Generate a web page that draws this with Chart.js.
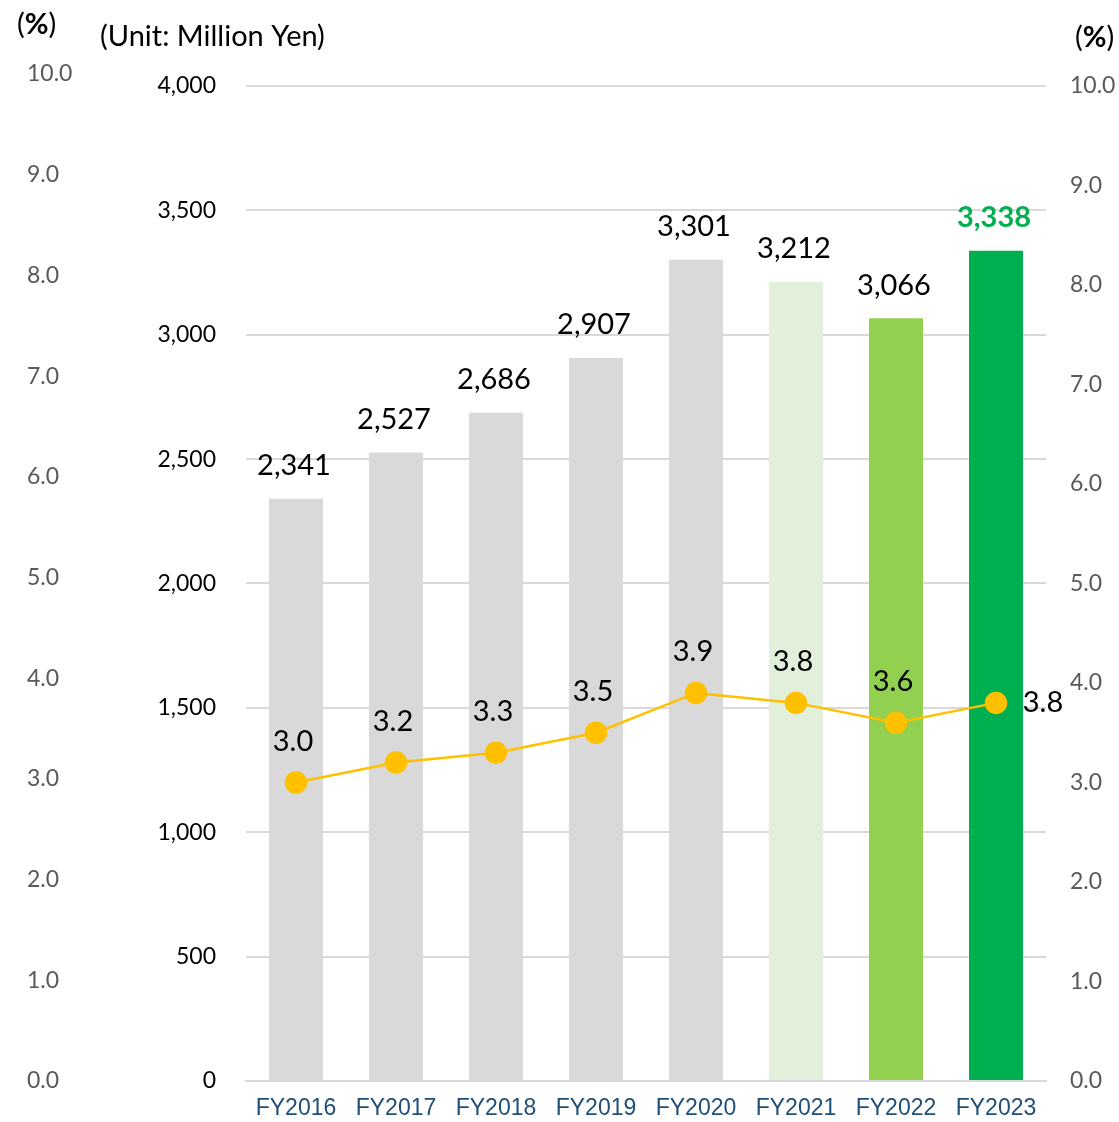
<!DOCTYPE html>
<html>
<head>
<meta charset="utf-8">
<script src="https://cdn.jsdelivr.net/npm/chart.js@4.4.1/dist/chart.umd.min.js"></script>
<style>
  html, body { margin: 0; padding: 0; background: #ffffff; }
  #wrap { width: 1119px; height: 1122px; position: relative; }
</style>
</head>
<body>
<div id="wrap"><canvas id="c" width="1119" height="1122"></canvas></div>
<script>
const categories = ['FY2016', 'FY2017', 'FY2018', 'FY2019', 'FY2020', 'FY2021', 'FY2022', 'FY2023'];
const salesValues = [2341, 2527, 2686, 2907, 3301, 3212, 3066, 3338];
const ratioValues = [3.0, 3.2, 3.3, 3.5, 3.9, 3.8, 3.6, 3.8];
const barColors = ['#d9d9d9', '#d9d9d9', '#d9d9d9', '#d9d9d9', '#d9d9d9', '#e2efda', '#92d050', '#00b050'];
const amountTicks = [0, 500, 1000, 1500, 2000, 2500, 3000, 3500, 4000];
const pctTicks = [0, 1, 2, 3, 4, 5, 6, 7, 8, 9, 10];
const unitTitle = '(Unit: Million Yen)';

const FONT = 'Lato, "Open Sans", sans-serif';
const AXIS_FONT = '"Liberation Sans", Arial, sans-serif';

const labelPlugin = {
  id: 'valueLabels',
  afterDatasetsDraw(chart) {
    const ctx = chart.ctx;
    ctx.save();
    ctx.textAlign = 'center';
    ctx.textBaseline = 'middle';
    const barMeta = chart.getDatasetMeta(0);
    barMeta.data.forEach((el, i) => {
      const last = i === salesValues.length - 1;
      ctx.font = (last ? 'bold ' : '') + '29px ' + FONT;
      ctx.fillStyle = last ? '#00b050' : '#000000';
      ctx.fillText(salesValues[i].toLocaleString('en-US'), el.x - 2, el.y - 33);
    });
    const lineMeta = chart.getDatasetMeta(1);
    ctx.font = '29px ' + FONT;
    ctx.fillStyle = '#000000';
    lineMeta.data.forEach((el, i) => {
      const txt = ratioValues[i].toFixed(1);
      if (i === ratioValues.length - 1) {
        ctx.fillText(txt, el.x + 47, el.y);
      } else {
        ctx.fillText(txt, el.x - 3, el.y - 41);
      }
    });
    ctx.restore();
  },
  afterDraw(chart) {
    const ctx = chart.ctx;
    ctx.save();
    ctx.textBaseline = 'middle';
    ctx.textAlign = 'left';
    ctx.fillStyle = '#000000';
    const drawPct = (x, y) => {
      ctx.font = '29px ' + FONT;
      ctx.fillText('(', x, y);
      let w = ctx.measureText('(').width;
      ctx.font = 'bold 29px ' + FONT;
      ctx.fillText('%', x + w, y);
      w += ctx.measureText('%').width;
      ctx.font = '29px ' + FONT;
      ctx.fillText(')', x + w, y);
    };
    drawPct(17, 25);
    drawPct(1075, 38);
    ctx.font = '29px ' + FONT;
    ctx.fillText(unitTitle, 100, 37);
    ctx.restore();
  }
};

new Chart(document.getElementById('c'), {
  data: {
    labels: categories,
    datasets: [
      {
        type: 'bar',
        data: salesValues,
        backgroundColor: barColors,
        yAxisID: 'y',
        barPercentage: 0.54,
        categoryPercentage: 1.0,
        order: 2
      },
      {
        type: 'line',
        data: ratioValues,
        yAxisID: 'yR',
        borderColor: '#ffc000',
        backgroundColor: '#ffc000',
        borderWidth: 2.5,
        pointRadius: 10,
        pointBackgroundColor: '#ffc000',
        pointBorderColor: '#ffc000',
        tension: 0,
        order: 1
      }
    ]
  },
  options: {
    responsive: false,
    animation: false,
    events: [],
    layout: { padding: { left: 27, right: 0, top: 74, bottom: 0 } },
    plugins: { legend: { display: false }, tooltip: { enabled: false } },
    scales: {
      x: {
        position: 'bottom',
        grid: { display: false, drawTicks: false },
        border: { display: true, color: '#d9d9d9', width: 2 },
        ticks: { color: '#1f4e79', font: { family: AXIS_FONT, size: 23 }, padding: 14, maxRotation: 0, autoSkip: false },
        afterFit(s) { s.height = 41; }
      },
      y: {
        position: 'left',
        weight: 0,
        min: 0,
        max: 4000 * 1008 / 996,
        afterBuildTicks(s) { s.ticks = amountTicks.map(v => ({ value: v })); },
        grid: { color: '#d9d9d9', lineWidth: 2, drawTicks: true, tickLength: 30, tickColor: 'rgba(0,0,0,0)' },
        border: { display: false },
        ticks: {
          color: '#000000', font: { family: FONT, size: 23 }, padding: 0,
          callback: v => Number(v).toLocaleString('en-US')
        },
        afterFit(s) { s.width = 146; }
      },
      yPct: {
        position: 'left',
        weight: 1,
        min: 0,
        max: 10,
        afterBuildTicks(s) { s.ticks = pctTicks.map(v => ({ value: v })); },
        grid: { drawOnChartArea: false, drawTicks: false },
        border: { display: false },
        ticks: {
          color: '#595959', font: { family: FONT, size: 23 }, crossAlign: 'far', padding: 0,
          callback: v => Number(v).toFixed(1)
        },
        afterFit(s) { s.width = 73; }
      },
      yR: {
        position: 'right',
        min: 0,
        max: 10 * 1008 / 996,
        afterBuildTicks(s) { s.ticks = pctTicks.map(v => ({ value: v })); },
        grid: { drawOnChartArea: false, drawTicks: true, tickLength: 24, tickColor: 'rgba(0,0,0,0)' },
        border: { display: false },
        ticks: {
          color: '#595959', font: { family: FONT, size: 23 }, padding: 0,
          callback: v => Number(v).toFixed(1)
        },
        afterFit(s) { s.width = 73; }
      }
    }
  },
  plugins: [labelPlugin]
});
</script>
</body>
</html>
